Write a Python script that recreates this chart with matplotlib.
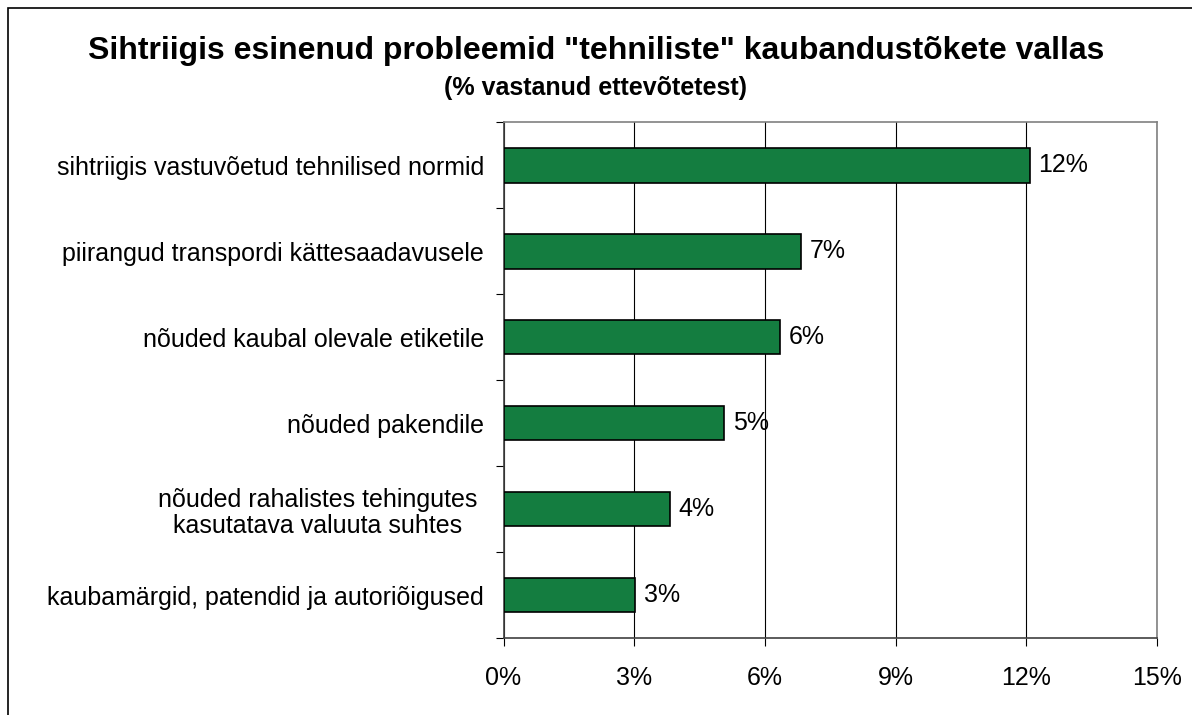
import matplotlib.pyplot as plt
from matplotlib.patches import Rectangle
from matplotlib.ticker import FuncFormatter, MultipleLocator

plt.rcParams['font.family'] = ['Liberation Sans', 'DejaVu Sans']

categories = [
    'sihtriigis vastuvõetud tehnilised normid',
    'piirangud transpordi kättesaadavusele',
    'nõuded kaubal olevale etiketile',
    'nõuded pakendile',
    'nõuded rahalistes tehingutes \nkasutatava valuuta suhtes ',
    'kaubamärgid, patendid ja autoriõigused',
]
values = [12.08, 6.84, 6.34, 5.06, 3.82, 3.03]
value_labels = ['12%', '7%', '6%', '5%', '4%', '3%']
x_ticks = [0, 3, 6, 9, 12, 15]

fig = plt.figure(figsize=(11.92, 7.15), dpi=100)
ax = fig.add_axes([0.4224, 0.1077, 0.5482, 0.7210])

y = list(range(len(categories)))
ax.barh(y, values, height=0.4, color='#147D40', edgecolor='black',
        linewidth=1.2, zorder=3)
for yi, v, lab in zip(y, values, value_labels):
    ax.text(v + 0.2, yi, lab, va='center', ha='left', fontsize=18, zorder=4)

ax.set_xlim(0, 15)
ax.set_ylim(len(categories) - 0.5, -0.5)
ax.set_xticks(x_ticks)
ax.xaxis.set_major_formatter(FuncFormatter(lambda v, p: f'{v:.0f}%'))
ax.grid(axis='x', color='black', linewidth=0.8, zorder=1)

ax.set_yticks(y)
ax.set_yticklabels(categories, fontsize=18, multialignment='center',
                   linespacing=1.15)
ax.yaxis.set_minor_locator(MultipleLocator(1, offset=0.5))
ax.tick_params(axis='y', which='major', length=0, pad=14)
ax.tick_params(axis='y', which='minor', length=6, width=0.8, direction='out')
ax.tick_params(axis='x', length=6, width=0.8, direction='out', pad=14,
               labelsize=18)

for side in ['top', 'right']:
    ax.spines[side].set_color('#808080')
    ax.spines[side].set_linewidth(1.2)
for side in ['left', 'bottom']:
    ax.spines[side].set_color('#404040')
    ax.spines[side].set_linewidth(1.2)

fig.text(0.5, 0.929, 'Sihtriigis esinenud probleemid "tehniliste" kaubandustõkete vallas',
         ha='center', va='center', fontsize=23, fontweight='bold')
fig.text(0.5, 0.877, '(% vastanud ettevõtetest)', ha='center', va='center',
         fontsize=18, fontweight='bold')

fig.patches.append(Rectangle((8 / 1192, -0.01), 1.1, 1 - 8 / 715 + 0.01,
                             transform=fig.transFigure, fill=False,
                             edgecolor='black', linewidth=1.2))

fig.savefig('out.png', dpi=100)
